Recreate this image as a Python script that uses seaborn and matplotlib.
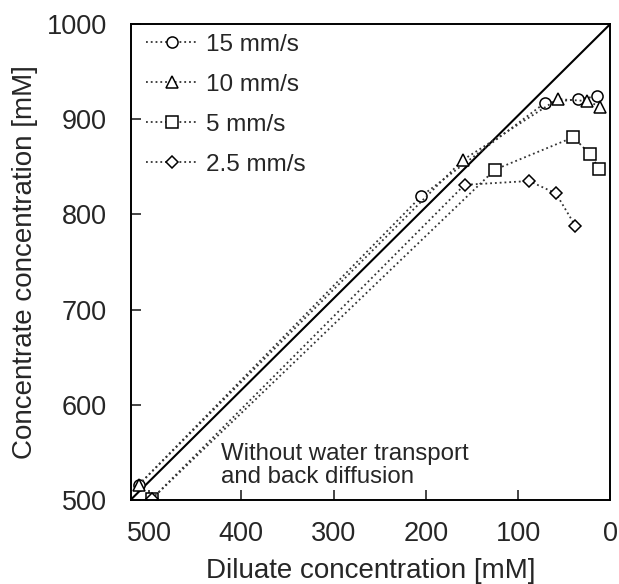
import matplotlib
matplotlib.use('Agg')
import matplotlib.pyplot as plt
import seaborn as sns

# Data
x_15 = [511, 205, 71, 35, 14]
y_15 = [516, 819, 917, 921, 924]
x_10 = [511, 160, 57, 25, 11]
y_10 = [516, 857, 921, 919, 913]
x_5 = [497, 125, 40, 22, 12]
y_5 = [501, 847, 881, 863, 848]
x_25 = [497, 158, 88, 59, 38]
y_25 = [501, 831, 835, 822, 788]

labels = ['15 mm/s', '10 mm/s', '5 mm/s', '2.5 mm/s']
markers = ['o', '^', 's', 'D']
marker_sizes = [8, 8, 8, 6.5]

# ideal line (no water transport, no back diffusion)
ideal_x = [520, 0]
ideal_y = [500, 1000]

sns.set_style('ticks')
plt.rcParams['font.family'] = ['Liberation Sans', 'DejaVu Sans']

fig = plt.figure(figsize=(6.19, 5.84), dpi=100)
ax = fig.add_axes([0.211, 0.144, 0.775, 0.815])

series = [(x_15, y_15), (x_10, y_10), (x_5, y_5), (x_25, y_25)]
for (xs, ys), lab, mk, ms in zip(series, labels, markers, marker_sizes):
    sns.lineplot(x=xs, y=ys, ax=ax, sort=False, color='#333333',
                 linestyle=':', linewidth=1.3, marker=mk, markersize=ms,
                 markerfacecolor='white', markeredgecolor='black',
                 markeredgewidth=1.1, label=lab)

ax.plot(ideal_x, ideal_y, color='black', linewidth=1.5, zorder=1)

ax.set_xlim(520, 0)
ax.set_ylim(500, 1000)
ax.set_xticks([500, 400, 300, 200, 100, 0])
ax.set_yticks([500, 600, 700, 800, 900, 1000])
ax.tick_params(axis='both', direction='in', length=7, width=1.2, labelsize=19.5)
ax.tick_params(axis='x', pad=15)
ax.tick_params(axis='y', pad=17)
for sp in ax.spines.values():
    sp.set_linewidth(1.4)
    sp.set_color('black')

ax.set_xlabel('Diluate concentration [mM]', fontsize=20, labelpad=8)
ax.set_ylabel('Concentrate concentration [mM]', fontsize=20, labelpad=6)

ax.text(422, 536, 'Without water transport\nand back diffusion',
        fontsize=17.3, ha='left', va='center', linespacing=1.05)

ax.legend(loc='upper left', frameon=False, fontsize=17.5, handlelength=2.15,
          handletextpad=0.3, labelspacing=0.74, borderaxespad=0.0,
          borderpad=0.4, bbox_to_anchor=(0.012, 1.0))

fig.savefig('out.png', dpi=100)
